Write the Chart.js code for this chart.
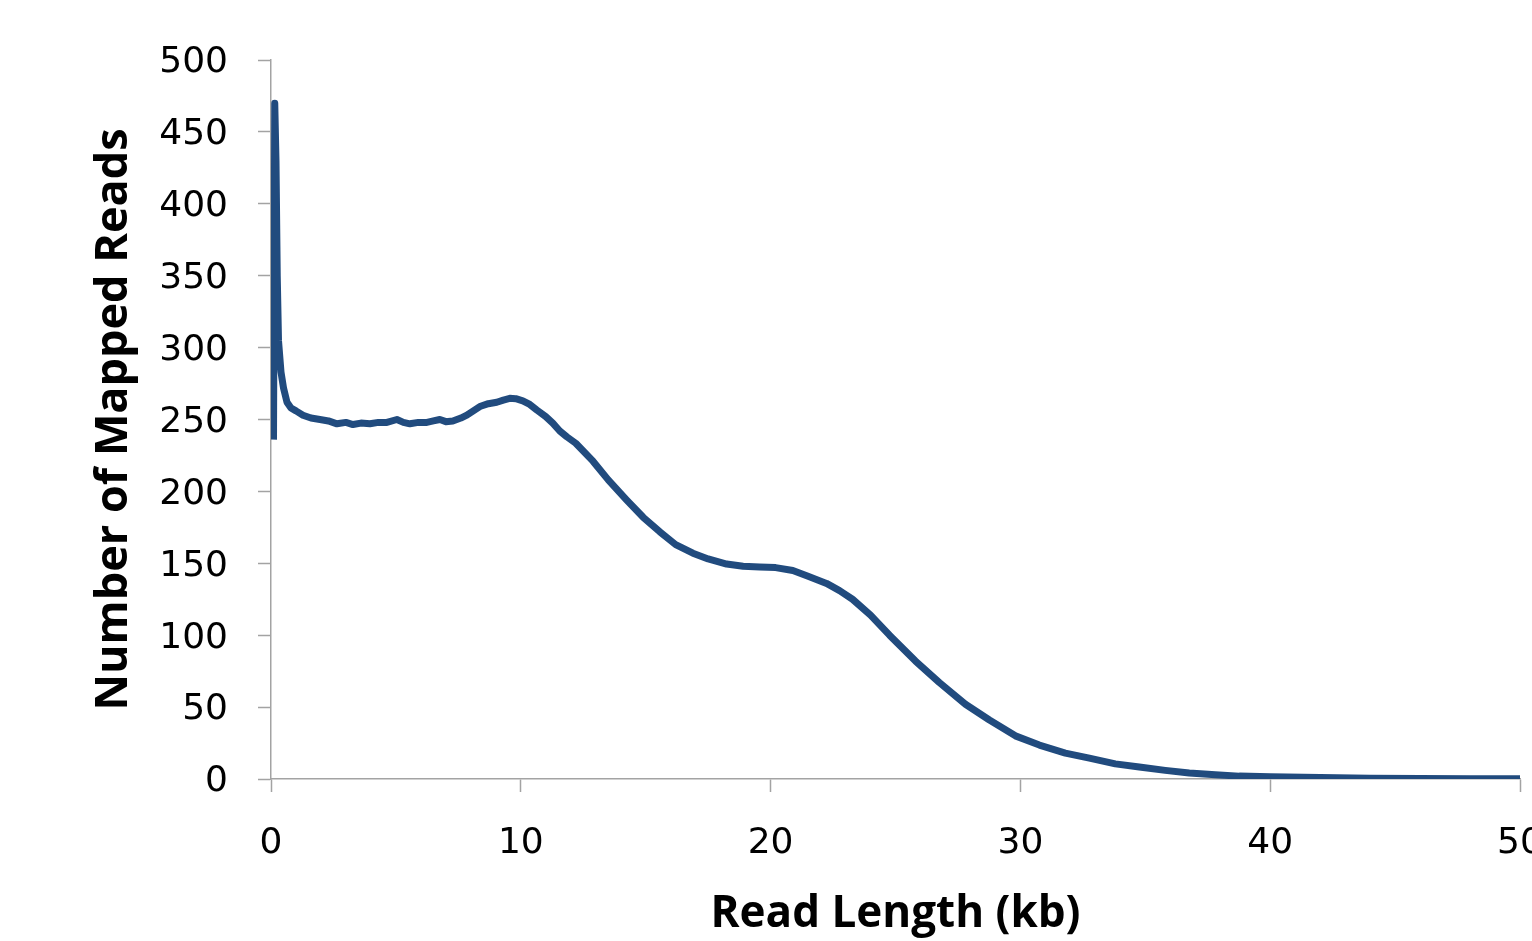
<!DOCTYPE html>
<html>
<head>
<meta charset="utf-8">
<title>Read Length Distribution</title>
<script src="https://cdn.jsdelivr.net/npm/chart.js@4"></script>
<style>
	html, body {
		margin: 0;
		padding: 0;
		background: #fff;
		overflow: hidden;
	}
	#chart-wrap {
		width: 1600px;
		height: 941px;
	}
</style>
</head>
<body>
<div id="chart-wrap">
	<canvas id="read-length-chart"></canvas>
</div>
<script>
// Read length (kb) on the x axis
const readLengthKb = [
	0.1, 0.15, 0.2, 0.25, 0.3, 0.4, 0.5, 0.64, 0.8, 1.0,
	1.28, 1.6, 1.96, 2.3, 2.64, 3.0, 3.28, 3.6, 3.96, 4.3,
	4.64, 5.04, 5.3, 5.56, 5.9, 6.24, 6.5, 6.76, 7.0, 7.28,
	7.6, 7.84, 8.1, 8.36, 8.7, 9.04, 9.3, 9.56, 9.8, 10.08,
	10.36, 10.64, 11.0, 11.28, 11.56, 11.84, 12.2, 12.89, 13.5, 14.24,
	14.9, 15.56, 16.2, 16.89, 17.5, 18.24, 18.9, 19.56, 20.2, 20.89,
	21.5, 22.24, 22.76, 23.28, 24.0, 24.76, 25.8, 26.76, 27.8, 28.76,
	29.8, 30.76, 31.8, 32.76, 33.8, 34.76, 35.8, 36.76, 37.8, 38.76,
	40, 42, 44, 46, 48, 50
];

// Number of mapped reads at each read length
const mappedReads = [
	236, 470, 430, 350, 305, 283, 272, 262, 258, 256,
	253, 251, 250, 249, 247, 248, 246.5, 247.5, 247, 248,
	248, 250, 248, 247, 248, 248, 249, 250, 248.5, 249,
	251, 253, 256, 259, 261, 262, 263.5, 264.7, 264.5, 263,
	260.5, 256.6, 252, 247.5, 242, 238, 233.5, 221, 208, 194,
	182, 172, 163, 157, 153, 149.5, 148, 147.5, 147, 145,
	141, 136, 131, 125, 114, 100, 82, 67, 52, 41,
	30, 23.6, 18, 14.5, 10.5, 8.3, 6, 4.2, 3, 2,
	1.5, 1, 0.6, 0.4, 0.2, 0.1
];

const xTicks = [0, 10, 20, 30, 40, 50];
const yTicks = [0, 50, 100, 150, 200, 250, 300, 350, 400, 450, 500];

const axisColor = '#a3a3a3';
const lineColor = '#214b7e';

const points = readLengthKb.map((x, i) => ({ x, y: mappedReads[i] }));

const ctx = document.getElementById('read-length-chart').getContext('2d');

new Chart(ctx, {
	type: 'line',
	data: {
		datasets: [
			{
				label: 'Mapped Reads',
				data: points,
				borderColor: lineColor,
				backgroundColor: lineColor,
				borderWidth: 7,
				borderCapStyle: 'butt',
				borderJoinStyle: 'round',
				pointRadius: 0,
				tension: 0,
				fill: false
			}
		]
	},
	options: {
		responsive: true,
		maintainAspectRatio: false,
		animation: false,
		layout: {
			padding: { top: 60, right: 80, left: 0, bottom: 0 }
		},
		plugins: {
			legend: { display: false },
			title: { display: false },
			tooltip: { enabled: false }
		},
		scales: {
			x: {
				type: 'linear',
				min: 0,
				max: 50,
				afterFit(scale) {
					scale.height = 162;
				},
				afterBuildTicks(scale) {
					scale.ticks = xTicks.map((v) => ({ value: v }));
				},
				border: { color: axisColor, width: 1.5 },
				grid: {
					drawOnChartArea: false,
					drawTicks: true,
					tickLength: 13,
					tickWidth: 1.5,
					tickColor: axisColor
				},
				ticks: {
					color: '#000',
					padding: 30,
					maxRotation: 0,
					font: { family: 'DejaVu Sans', size: 36 }
				},
				title: {
					display: true,
					text: 'Read Length (kb)',
					color: '#000',
					padding: { top: 0, bottom: 0 },
					font: { family: 'Open Sans', size: 44, weight: 'bold' }
				}
			},
			y: {
				type: 'linear',
				min: 0,
				max: 500,
				afterFit(scale) {
					scale.width = 271;
				},
				afterBuildTicks(scale) {
					scale.ticks = yTicks.map((v) => ({ value: v }));
				},
				border: { color: axisColor, width: 1.5 },
				grid: {
					drawOnChartArea: false,
					drawTicks: true,
					tickLength: 13,
					tickWidth: 1.5,
					tickColor: axisColor
				},
				ticks: {
					color: '#000',
					padding: 30,
					labelOffset: 3,
					font: { family: 'DejaVu Sans', size: 36 }
				},
				title: {
					display: true,
					text: 'Number of Mapped Reads',
					color: '#000',
					padding: { top: 87, bottom: 0 },
					font: { family: 'Open Sans', size: 45, weight: 'bold' }
				}
			}
		}
	}
});
</script>
</body>
</html>
